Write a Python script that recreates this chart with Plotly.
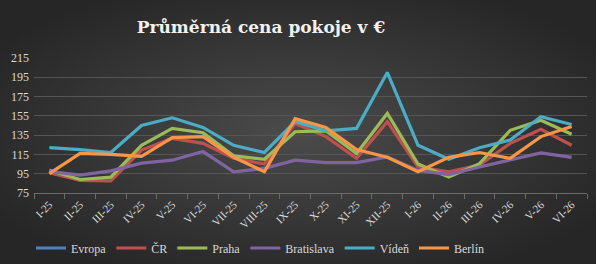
import base64
import plotly.graph_objects as go

categories = ["I-25", "II-25", "III-25", "IV-25", "V-25", "VI-25", "VII-25", "VIII-25", "IX-25",
              "X-25", "XI-25", "XII-25", "I-26", "II-26", "III-26", "IV-26", "V-26", "VI-26"]

evropa = [None] * 18
cr = [96, 88, 87.5, 119.5, 131.5, 126.5, 111, 105, 147, 133.5, 111, 149, 102, 97, 104, 126.5, 141, 124.5]
praha = [98.5, 89, 91.5, 124.5, 142, 137.5, 113.5, 110, 138.5, 139.5, 116, 157.5, 105, 91.5, 105.5, 140, 150.5, 136]
bratislava = [97.5, 93.5, 98, 106, 109, 118, 97, 100.5, 109, 106.5, 106.5, 112.5, 98.5, 94, 102, 109, 116.5, 112]
viden = [122, 120, 117, 145, 153, 143, 124.5, 117, 149, 139.5, 142, 200, 124.5, 110, 122, 130, 154, 146]
berlin = [95, 116, 115, 113, 132.5, 133.5, 112, 97, 152, 143, 120, 112, 97, 112, 117, 111, 133.5, 144]

series = [
    ("Evropa", evropa, "#4f81bd"),
    ("ČR", cr, "#c0504d"),
    ("Praha", praha, "#9bbb59"),
    ("Bratislava", bratislava, "#8064a2"),
    ("Vídeň", viden, "#4bacc6"),
    ("Berlín", berlin, "#f79646"),
]

y_ticks = [75, 95, 115, 135, 155, 175, 195, 215]

svg = ('<svg xmlns="http://www.w3.org/2000/svg" width="596" height="264" viewBox="0 0 596 264" preserveAspectRatio="none">'
       '<defs><radialGradient id="g" cx="50%" cy="50%" r="60%">'
       '<stop offset="0%" stop-color="#4b4b4b"/><stop offset="100%" stop-color="#262626"/>'
       '</radialGradient></defs><rect width="596" height="264" fill="url(#g)"/></svg>')
bg = "data:image/svg+xml;base64," + base64.b64encode(svg.encode()).decode()

fig = go.Figure()
for name, vals, color in series:
    fig.add_trace(go.Scatter(x=categories, y=vals, name=name, mode="lines",
                             line=dict(color=color, width=3.2)))

fig.update_layout(
    width=596, height=264,
    margin=dict(l=34, r=9, t=58, b=71, autoexpand=False),
    paper_bgcolor="#333333",
    plot_bgcolor="rgba(0,0,0,0)",
    images=[dict(source=bg, xref="paper", yref="paper", x=-34/553, y=1+58/135,
                 sizex=596/553, sizey=264/135, sizing="stretch", layer="below",
                 xanchor="left", yanchor="top")],
    title=dict(text="<b>Průměrná cena pokoje v €</b>", x=261/596, xanchor="center",
               y=1 - 27/264, yanchor="middle",
               font=dict(family="DejaVu Serif", size=17, color="#f2f2f2")),
    font=dict(family="Liberation Serif", color="#d9d9d9"),
    xaxis=dict(type="category", range=[-0.5, 17.5], automargin=False,
               tickangle=-45, tickfont=dict(size=11, color="#d9d9d9"),
               showgrid=False, showline=True, linecolor="#6b6b6b", linewidth=1,
               ticks="outside", ticklen=5, tickcolor="#6b6b6b", tickson="boundaries"),
    yaxis=dict(range=[75, 215], tickvals=y_ticks, automargin=False,
               tickfont=dict(size=12, color="#d9d9d9"),
               showgrid=True, gridcolor="#555555", gridwidth=1, zeroline=False,
               showline=False, ticks="", ticklabelstandoff=4),
    legend=dict(orientation="h", x=(260-34)/553, xanchor="center", y=(193-248)/135, yanchor="middle",
                font=dict(size=12, color="#d9d9d9"), bgcolor="rgba(0,0,0,0)",
                itemwidth=30, tracegroupgap=0),
    showlegend=True,
)

fig.write_html("out.html")
